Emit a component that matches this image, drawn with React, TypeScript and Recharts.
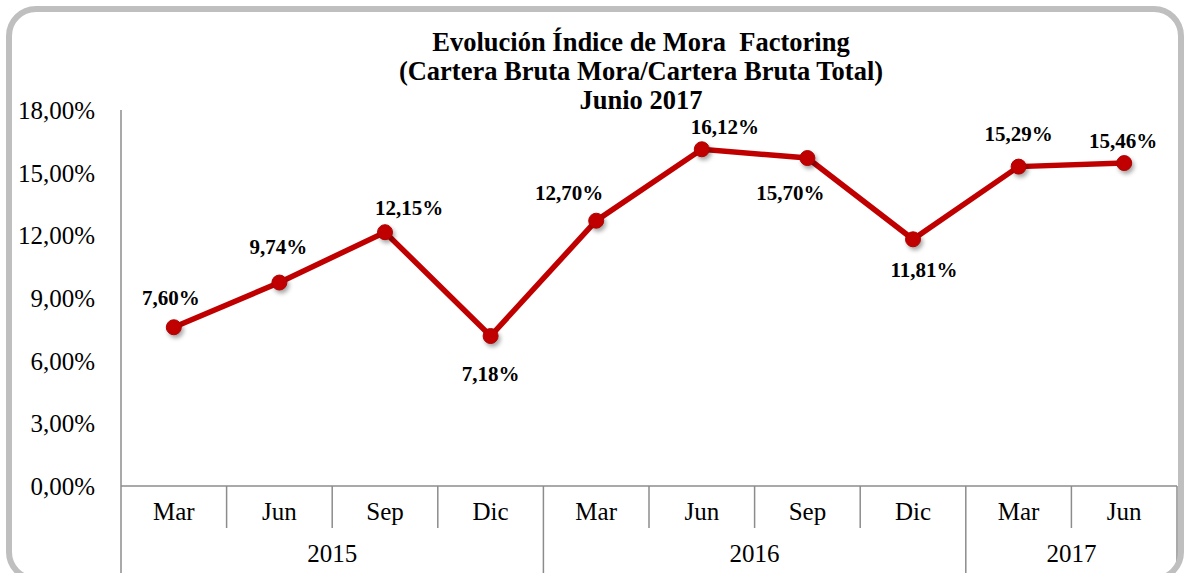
import { LineChart, Line, XAxis, YAxis, LabelList } from "recharts";

const months = ["Mar", "Jun", "Sep", "Dic", "Mar", "Jun", "Sep", "Dic", "Mar", "Jun"];
const years = ["2015", "2015", "2015", "2015", "2016", "2016", "2016", "2016", "2017", "2017"];
const mora = [7.6, 9.74, 12.15, 7.18, 12.7, 16.12, 15.7, 11.81, 15.29, 15.46];
const yTicks = [0, 3, 6, 9, 12, 15, 18];
const titleLines = [
  "Evolución Índice de Mora  Factoring",
  "(Cartera Bruta Mora/Cartera Bruta Total)",
  "Junio 2017",
];

// where each value label sits relative to its point (dx, dy of text centre)
const labelOffsets: [number, number][] = [
  [-3, -29],
  [-1, -36],
  [24, -24],
  [0, 38],
  [-27, -28],
  [23, -22],
  [-17, 35],
  [11, 31],
  [0, -33],
  [-1, -22],
];

const data = months.map((m, i) => ({ month: m, year: years[i], mora: mora[i] }));

const W = 1186;
const H = 573;
const PLOT_LEFT = 121;
const PLOT_RIGHT = 1177;
const PLOT_TOP = 110;
const AXIS_H = 87;
const BAND = (PLOT_RIGHT - PLOT_LEFT) / months.length;
const FONT = "'Liberation Serif', 'Times New Roman', serif";
const GRAY = "#8c8c8c";

const fmt = (v: number) => v.toFixed(2).replace(".", ",") + "%";

function MonthTick(props: any) {
  const { x, y, index, payload } = props;
  const yr = years[index];
  const groupStart = index === 0 || years[index - 1] !== yr;
  const count = years.filter((v) => v === yr).length;
  const left = x - BAND / 2;
  const isLast = index === months.length - 1;
  return (
    <g>
      <text x={x} y={y + 34} textAnchor="middle" fontSize={25} fontFamily={FONT} fill="#000">
        {payload.value}
      </text>
      <line
        x1={left}
        y1={y}
        x2={left}
        y2={groupStart ? y + AXIS_H + 10 : y + 42}
        stroke={GRAY}
        strokeWidth={1.5}
      />
      {isLast && (
        <line x1={x + BAND / 2} y1={y} x2={x + BAND / 2} y2={y + 84} stroke={GRAY} strokeWidth={1.5} />
      )}
      {groupStart && (
        <text
          x={left + (count * BAND) / 2}
          y={y + 76}
          textAnchor="middle"
          fontSize={25}
          fontFamily={FONT}
          fill="#000"
        >
          {yr}
        </text>
      )}
    </g>
  );
}

function Dot(props: any) {
  const { cx, cy } = props;
  return (
    <circle
      cx={cx}
      cy={cy}
      r={7.5}
      fill="#c00000"
      stroke="#b00000"
      strokeWidth={1}
      style={{ filter: "drop-shadow(2px 3px 2px rgba(0,0,0,0.35))" }}
    />
  );
}

function ValueLabel(props: any) {
  const { x, y, value, index } = props;
  const [dx, dy] = labelOffsets[index] || [0, -25];
  return (
    <text
      x={x + dx}
      y={y + dy + 7}
      textAnchor="middle"
      fontSize={21}
      fontWeight="bold"
      fontFamily={FONT}
      fill="#000"
    >
      {fmt(value)}
    </text>
  );
}

export default function App() {
  return (
    <div
      style={{
        position: "absolute",
        left: 0,
        top: 0,
        width: W,
        height: H,
        background: "#fff",
        overflow: "hidden",
      }}
    >
      <LineChart
        width={W}
        height={H}
        data={data}
        margin={{ top: PLOT_TOP, right: W - PLOT_RIGHT, bottom: 0, left: 0 }}
      >
        <YAxis
          domain={[0, 18]}
          ticks={yTicks}
          tickFormatter={fmt}
          width={PLOT_LEFT}
          axisLine={{ stroke: GRAY, strokeWidth: 1.5 }}
          tickLine={false}
          tickSize={0}
          tickMargin={26}
          tick={{ fontSize: 25, fontFamily: FONT, fill: "#000" }}
          interval={0}
        />
        <XAxis
          dataKey="month"
          height={AXIS_H}
          interval={0}
          padding={{ left: BAND / 2, right: BAND / 2 }}
          axisLine={{ stroke: GRAY, strokeWidth: 1.5 }}
          tickLine={false}
          tickSize={0}
          tickMargin={0}
          tick={<MonthTick />}
        />
        <Line
          type="linear"
          dataKey="mora"
          stroke="#c00000"
          strokeWidth={5.5}
          dot={<Dot />}
          activeDot={false}
          isAnimationActive={false}
        >
          <LabelList dataKey="mora" content={<ValueLabel />} />
        </Line>
      </LineChart>
      <svg width={W} height={H} style={{ position: "absolute", left: 0, top: 0, pointerEvents: "none" }}>
        <rect x={9} y={9} width={1172} height={570} rx={27} ry={27} fill="none" stroke="#bfbfbf" strokeWidth={6} />
        {titleLines.map((t, i) => (
          <text
            key={i}
            x={641}
            y={51 + i * 29}
            textAnchor="middle"
            fontSize={26.5}
            fontWeight="bold"
            fontFamily={FONT}
            fill="#000"
            style={{ whiteSpace: "pre" }}
          >
            {t}
          </text>
        ))}
      </svg>
    </div>
  );
}
